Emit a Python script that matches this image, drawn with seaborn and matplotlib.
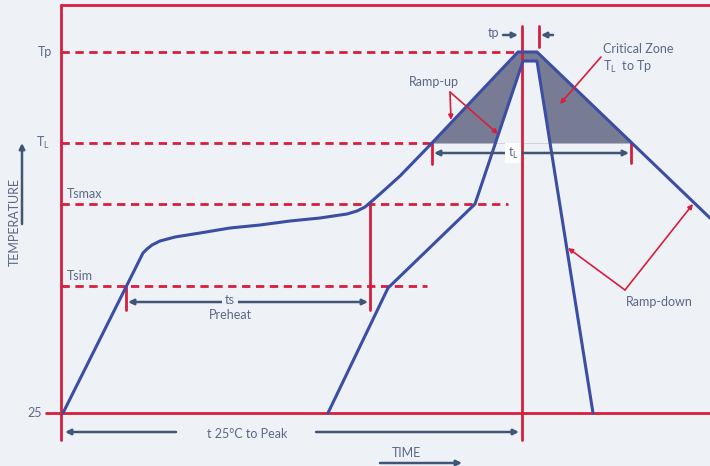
import matplotlib
matplotlib.use("Agg")
import matplotlib.pyplot as plt
import seaborn as sns
import numpy as np
import pandas as pd

# levels (pixel scale of the drawing, y grows downward)
levels = ["Tp", "TL", "Tsmax", "Tsim", "25"]
level_y = [52, 143, 204, 286, 413]
level_end = [517, 432, 508, 427, 710]

# outer profile (time, temperature)
outer_t = [63, 143, 147, 152, 160, 175, 200, 230, 260, 290, 320, 347, 357,
           365, 372, 380, 390, 400, 432, 518, 537, 710]
outer_T = [413, 253, 249, 245, 241, 237, 233, 228, 225, 221, 218, 214, 211,
           207, 201, 194, 185, 176, 143, 52, 52, 218]

# inner profile
inner_t = [328, 388, 475, 523, 537, 593]
inner_T = [413, 288, 204, 61, 61, 413]

red = "#d61f3c"
blue = "#3b4ea3"
txt = "#5a6987"
dark = "#3f5678"
bg = "#eef1f6"
gray = "#777c94"

sns.set_style("white")
plt.rcParams["font.family"] = ["Lato", "DejaVu Sans"]
plt.rcParams["mathtext.fontset"] = "custom"
plt.rcParams["mathtext.rm"] = "Lato"

fig = plt.figure(figsize=(7.1, 4.66), dpi=100)
fig.patch.set_facecolor(bg)
ax = fig.add_axes([0, 0, 1, 1])
ax.set_facecolor(bg)

lv = dict(zip(levels, level_y))
TL = lv["TL"]

# critical zone fill
xg = np.linspace(outer_t[0], outer_t[-1], 3000)
yo = np.interp(xg, outer_t, outer_T)
ax.fill_between(xg, np.minimum(yo, TL), TL, color=gray, lw=0, zorder=1)
xi = np.linspace(inner_t[0], inner_t[-1], 3000)
yi = np.interp(xi, inner_t, inner_T)
ax.fill_between(xi, np.minimum(yi, TL), TL, color=bg, lw=0, zorder=1.5)

# dashed level lines
for name, y, x1 in zip(levels[:-1], level_y[:-1], level_end[:-1]):
    ax.plot([61, x1], [y, y], color=red, lw=2, ls=(0, (3, 2)), zorder=2)

# frame
ax.plot([61, 61], [5, 440], color=red, lw=2, zorder=3)
ax.plot([61, 710], [5, 5], color=red, lw=2, zorder=3)
ax.plot([46, 710], [lv["25"], lv["25"]], color=red, lw=2, zorder=3)
ax.plot([522, 522], [26, 440], color=red, lw=2, zorder=3)

# markers
for x, y0, y1 in [(539, 26, 47), (432, 143, 164), (631, 143, 163),
                  (126, 287, 310), (370, 204, 310)]:
    ax.plot([x, x], [y0, y1], color=red, lw=2, zorder=3)

# profiles
prof = pd.DataFrame({"t": outer_t, "T": outer_T})
sns.lineplot(data=prof, x="t", y="T", sort=False, estimator=None,
             color=blue, lw=2.2, ax=ax, zorder=4)
prof2 = pd.DataFrame({"t": inner_t, "T": inner_T})
sns.lineplot(data=prof2, x="t", y="T", sort=False, estimator=None,
             color=blue, lw=2.2, ax=ax, zorder=4)
ax.set_xlim(0, 710)
ax.set_ylim(466, 0)
ax.axis("off")

# level labels
fs = 9
ax.text(52, lv["Tp"], "Tp", color=txt, fontsize=fs, ha="right", va="center")
ax.text(50, lv["TL"], r"T$_{\mathrm{L}}$", color=txt, fontsize=fs, ha="right", va="center")
ax.text(67, lv["Tsmax"] - 10, "Tsmax", color=txt, fontsize=fs, ha="left", va="center")
ax.text(67, lv["Tsim"] - 10, "Tsim", color=txt, fontsize=fs, ha="left", va="center")
ax.text(42, lv["25"], "25", color=txt, fontsize=fs, ha="right", va="center")
ax.text(15, 222, "TEMPERATURE", color=txt, fontsize=fs, rotation=90, ha="center", va="center")


def arrow(p0, p1, color=dark, lw=1.8, style="-|>", ms=8):
    ax.annotate("", xy=p1, xytext=p0,
                arrowprops=dict(arrowstyle=style, color=color, lw=lw,
                                mutation_scale=ms, shrinkA=0, shrinkB=0), zorder=5)


arrow((22, 224), (22, 143))

# tp
ax.text(494, 33, "tp", color=txt, fontsize=fs, ha="center", va="center")
arrow((503, 35), (518, 35))
arrow((553, 35), (541, 35))

# tL
arrow((434, 153), (629, 153), style="<|-|>")
ax.text(513, 153, r"t$_{\mathrm{L}}$", color=txt, fontsize=fs, ha="center", va="center",
        bbox=dict(facecolor="white", edgecolor="none", pad=2), zorder=6)

# ts preheat
arrow((128, 302), (368, 302), style="<|-|>")
ax.text(230, 300, "ts", color=txt, fontsize=fs, ha="center", va="center",
        bbox=dict(facecolor=bg, edgecolor="none", pad=2), zorder=6)
ax.text(230, 315, "Preheat", color=txt, fontsize=fs, ha="center", va="center")

# t 25C to peak
ax.text(247, 434, "t 25°C to Peak", color=txt, fontsize=fs, ha="center", va="center")
arrow((176, 432), (65, 432))
arrow((316, 432), (519, 432))

# time
ax.text(407, 453, "TIME", color=txt, fontsize=fs, ha="center", va="center")
arrow((380, 463), (462, 463))

# ramp-up
ax.text(434, 82, "Ramp-up", color=txt, fontsize=fs, ha="center", va="center")
arrow((450, 92), (451, 120), color=red, lw=1.2, ms=7)
arrow((450, 92), (498, 134), color=red, lw=1.2, ms=7)

# critical zone
ax.text(603, 49, "Critical Zone", color=txt, fontsize=fs, ha="left", va="center")
ax.text(603, 67, r"T$_{\mathrm{L}}$  to Tp", color=txt, fontsize=fs, ha="left", va="center")
arrow((601, 57), (560, 104), color=red, lw=1.2, ms=7)

# ramp-down
ax.text(659, 302, "Ramp-down", color=txt, fontsize=fs, ha="center", va="center")
arrow((625, 290), (568, 248), color=red, lw=1.2, ms=7)
arrow((625, 290), (693, 204), color=red, lw=1.2, ms=7)

fig.savefig("out.png", dpi=100, facecolor=bg)
